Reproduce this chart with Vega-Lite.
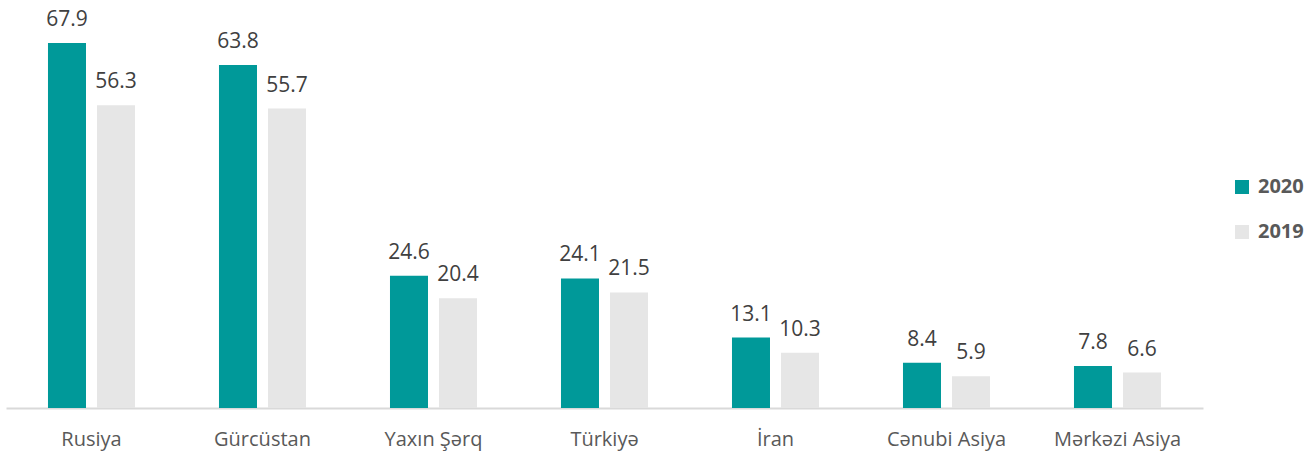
{
  "$schema": "https://vega.github.io/schema/vega-lite/v6.json",
  "width": 1197,
  "height": 408,
  "padding": {"left": 6, "top": 0, "right": 0, "bottom": 5},
  "background": "white",
  "config": {"view": {"stroke": null}, "font": "Open Sans"},
  "data": {"values": [
    {"region": "Rusiya", "year": "2020", "value": 67.9},
    {"region": "Rusiya", "year": "2019", "value": 56.3},
    {"region": "Gürcüstan", "year": "2020", "value": 63.8},
    {"region": "Gürcüstan", "year": "2019", "value": 55.7},
    {"region": "Yaxın Şərq", "year": "2020", "value": 24.6},
    {"region": "Yaxın Şərq", "year": "2019", "value": 20.4},
    {"region": "Türkiyə", "year": "2020", "value": 24.1},
    {"region": "Türkiyə", "year": "2019", "value": 21.5},
    {"region": "İran", "year": "2020", "value": 13.1},
    {"region": "İran", "year": "2019", "value": 10.3},
    {"region": "Cənubi Asiya", "year": "2020", "value": 8.4},
    {"region": "Cənubi Asiya", "year": "2019", "value": 5.9},
    {"region": "Mərkəzi Asiya", "year": "2020", "value": 7.8},
    {"region": "Mərkəzi Asiya", "year": "2019", "value": 6.6}
  ]},
  "encoding": {
    "x": {
      "field": "region", "type": "nominal", "sort": null,
      "scale": {"paddingInner": 0.491, "paddingOuter": 0.2455},
      "axis": {"title": null, "labelAngle": 0, "ticks": false, "domainColor": "#d9d9d9", "domainWidth": 2,
               "labelFont": "Open Sans", "labelFontSize": 20, "labelColor": "#595959",
               "labelBaseline": "alphabetic", "labelPadding": 37}
    },
    "xOffset": {"field": "year", "type": "nominal", "sort": ["2020", "2019"],
                "scale": {"paddingInner": 0.2245, "paddingOuter": 0}},
    "y": {"field": "value", "type": "quantitative", "scale": {"domain": [0, 75.9], "nice": false},
          "axis": null}
  },
  "layer": [
    {
      "mark": {"type": "bar"},
      "encoding": {
        "color": {"field": "year", "type": "nominal", "sort": ["2020", "2019"],
                  "scale": {"domain": ["2020", "2019"], "range": ["#009999", "#e6e6e6"]},
                  "legend": {"title": null, "orient": "none", "legendX": 1226, "legendY": 177,
                             "symbolType": "square", "symbolSize": 196, "symbolStrokeWidth": 0,
                             "labelFont": "Open Sans", "labelFontSize": 20, "labelFontWeight": "bold",
                             "labelColor": "#595959", "rowPadding": 25, "labelOffset": 6}}
      }
    },
    {
      "mark": {"type": "text", "dy": -17, "baseline": "alphabetic", "fontSize": 21, "color": "#404040", "font": "Open Sans"},
      "encoding": {"text": {"field": "value", "type": "quantitative", "format": ".1f"}}
    }
  ]
}
